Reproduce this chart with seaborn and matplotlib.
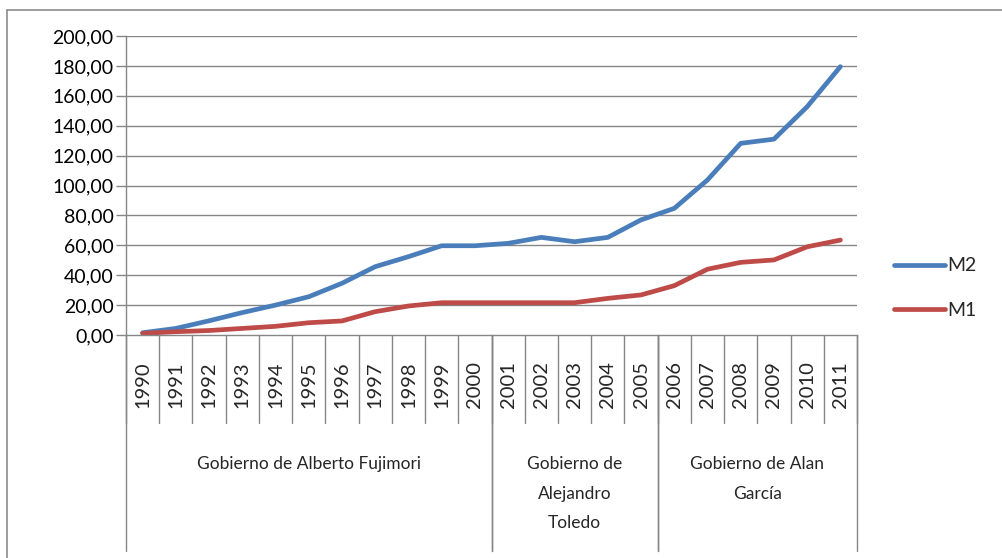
import matplotlib
matplotlib.use("Agg")
import matplotlib.pyplot as plt
import matplotlib.transforms as mtransforms
from matplotlib.lines import Line2D
import seaborn as sns
import pandas as pd
import numpy as np

years = [str(y) for y in range(1990, 2012)]
m2 = [1.5, 4.4, 9.5, 15.0, 20.0, 25.6, 34.6, 45.7, 52.4, 59.7, 59.7,
      61.3, 65.3, 62.4, 65.3, 77.0, 84.7, 103.7, 128.2, 131.0, 152.7, 179.5]
m1 = [1.1, 2.2, 3.0, 4.4, 5.8, 8.2, 9.4, 15.6, 19.4, 21.6, 21.6,
      21.6, 21.6, 21.6, 24.5, 26.8, 33.0, 44.0, 48.6, 50.2, 59.0, 63.5]
governments = ["Gobierno de Alberto Fujimori", "Gobierno de\nAlejandro\nToledo", "Gobierno de Alan\nGarcía"]
gov_spans = [(0, 11), (11, 16), (16, 22)]
yticks = list(range(0, 201, 20))
ytick_labels = [f"{v},00" for v in yticks]

sns.set_theme(style="white")
plt.rcParams['font.family'] = ['Lato', 'DejaVu Sans']

df = pd.DataFrame({
    "idx": list(range(len(years))) * 2,
    "value": m2 + m1,
    "serie": ["M2"] * len(years) + ["M1"] * len(years),
})

W, H = 1002, 558
fig = plt.figure(figsize=(W / 100, H / 100), dpi=100)
left, right, bottom, top = 126, 857, 335, 36
ax = fig.add_axes([left / W, 1 - bottom / H, (right - left) / W, (bottom - top) / H])

palette = {"M2": "#4A7EBB", "M1": "#BE4B48"}
sns.lineplot(data=df, x="idx", y="value", hue="serie", palette=palette,
             linewidth=3.4, ax=ax, legend=False, solid_capstyle="round")

ax.set_xlim(-0.5, len(years) - 0.5)
ax.set_ylim(0, 200)
ax.set_yticks(yticks)
ax.set_yticklabels(ytick_labels, fontsize=14, color="black")
ax.set_xticks([])
ax.set_xlabel("")
ax.set_ylabel("")
grid_c = "#868686"
for v in yticks[1:]:
    ax.axhline(v, color=grid_c, linewidth=1.0, zorder=0)
for s in ["top", "right"]:
    ax.spines[s].set_visible(False)
ax.spines["left"].set_color(grid_c)
ax.spines["bottom"].set_color(grid_c)
ax.spines["left"].set_linewidth(1.0)
ax.spines["bottom"].set_linewidth(1.0)
ax.tick_params(axis="y", which="major", length=7, width=1, color=grid_c, left=True, pad=2)

px = 1.0 / (bottom - top)  # axes fraction per pixel (vertical)
trans = mtransforms.blended_transform_factory(ax.transData, ax.transAxes)
# year separators
for i in range(len(years) + 1):
    ax.add_line(Line2D([i - 0.5, i - 0.5], [0, -(423 - bottom) * px], transform=trans,
                       color=grid_c, linewidth=1.0, clip_on=False))
# group separators
for a, b in gov_spans:
    for e in (a, b):
        ax.add_line(Line2D([e - 0.5, e - 0.5], [0, -(551 - bottom) * px], transform=trans,
                           color=grid_c, linewidth=1.0, clip_on=False))
# year labels
for i, y in enumerate(years):
    ax.text(i, -(385 - bottom) * px, y, transform=trans, rotation=90,
            ha="center", va="center", fontsize=14.5, clip_on=False)
# government labels
for name, (a, b) in zip(governments, gov_spans):
    ax.text((a + b - 1) / 2, -(456 - bottom) * px, name, transform=trans,
            ha="center", va="top", fontsize=12.5, linespacing=2.05, clip_on=False)

# legend
handles = [Line2D([0], [0], color=palette["M2"], linewidth=3.4),
           Line2D([0], [0], color=palette["M1"], linewidth=3.4)]
fig.legend(handles, ["M2", "M1"], loc="center left",
           bbox_to_anchor=(894 / W, 1 - 288 / H), frameon=False, fontsize=14,
           handlelength=2.6, handletextpad=0.15, labelspacing=1.4, borderaxespad=0,
           borderpad=0)

# outer chart frame
fig.add_artist(Line2D([7 / W, 7 / W], [0, 1 - 10 / H], transform=fig.transFigure,
                      color="#8c8c8c", linewidth=1.2))
fig.add_artist(Line2D([7 / W, 1], [1 - 10 / H, 1 - 10 / H], transform=fig.transFigure,
                      color="#8c8c8c", linewidth=1.2))

fig.savefig("out.png", dpi=100, facecolor="white")
